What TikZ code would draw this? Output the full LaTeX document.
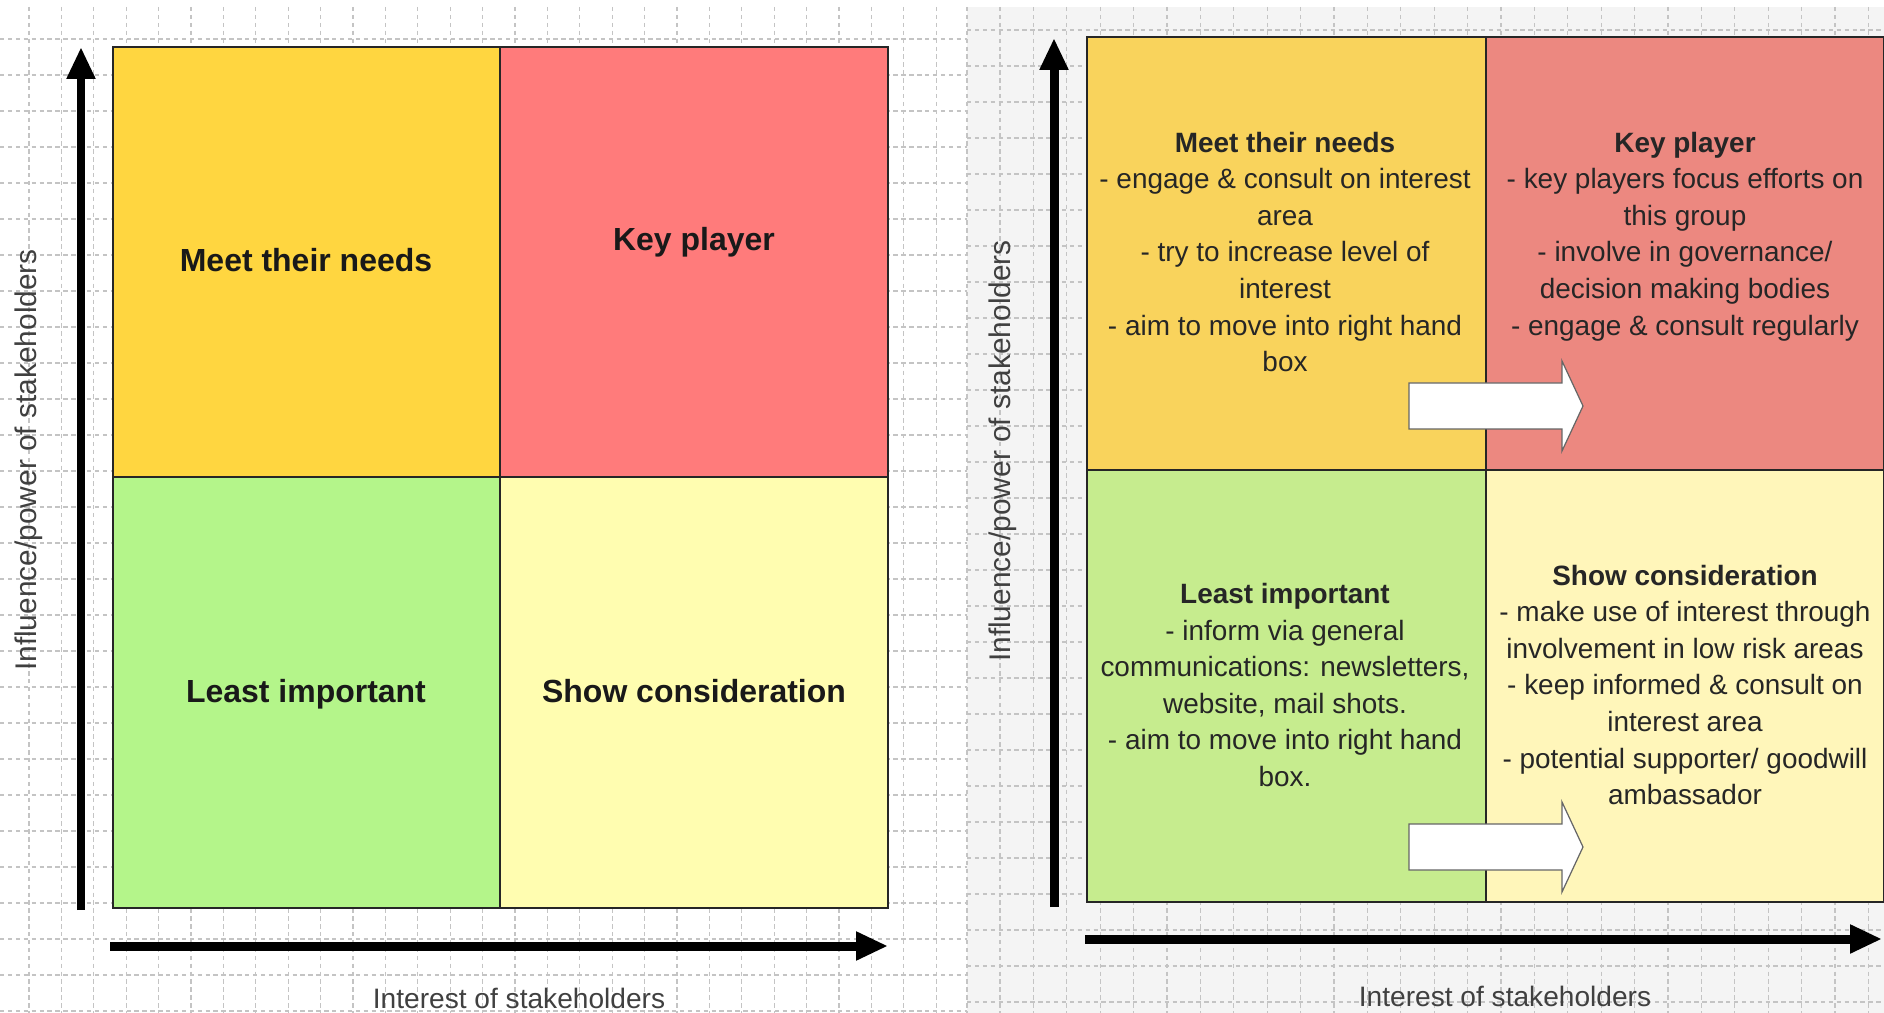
\documentclass[tikz,border=0pt]{standalone}
\usepackage{fontspec}
\setmainfont{Liberation Sans}
\usetikzlibrary{arrows.meta}
\definecolor{meetL}{HTML}{FFD640}
\definecolor{keyL}{HTML}{FF7B7B}
\definecolor{leastL}{HTML}{B4F58A}
\definecolor{showL}{HTML}{FFFDB0}
\definecolor{meetR}{HTML}{F9D35C}
\definecolor{keyR}{HTML}{EC8880}
\definecolor{leastR}{HTML}{C6EC8E}
\definecolor{showR}{HTML}{FFF6BA}
\definecolor{gridgray}{HTML}{C4C4C4}
\definecolor{panelgray}{HTML}{F4F4F4}
\begin{document}
\begin{tikzpicture}[>={Triangle[length=0.64cm,width=0.54cm]}, x=0.02cm, y=-0.02cm,
  quadline/.style={draw=black!85, line width=1.1pt},
  axis/.style={->, line width=0.18cm},
  gridline/.style={gridgray, line width=0.6pt, dash pattern=on 2.5pt off 2pt},
  bigtitle/.style={font=\fontsize{18.2}{22}\selectfont\bfseries, text=black!90, inner sep=0pt, text depth=0pt},
  notes/.style={align=center, inner sep=0pt, text=black!85, font=\fontsize{15.9}{20.8}\selectfont},
  axislabel/.style={text=black!75, font=\fontsize{16}{19}\selectfont, inner sep=0pt, anchor=base},
  moveon/.style={fill=white, draw=black!60, line width=0.7pt}]
\useasboundingbox (0,0) rectangle (1884,1013);
\fill[white] (0,0) rectangle (1884,1013);
% grid paper
\foreach \gx in {0,...,28} \draw[gridline] ({29+32.4*\gx},7) -- ({29+32.4*\gx},1013);
\foreach \gy in {0,...,27} \draw[gridline] (0,{39+36*\gy}) -- (967,{39+36*\gy});
\fill[panelgray] (967,7) rectangle (1884,1013);
\foreach \gx in {0,...,26} \draw[gridline] ({1000+33.4*\gx},7) -- ({1000+33.4*\gx},1013);
\foreach \gy in {0,...,27} \draw[gridline] (967,{30+36*\gy}) -- (1884,{30+36*\gy});
\draw[gridline] (967,7) -- (967,1013);

% left grid
\draw[quadline, fill=meetL] (113,47) rectangle (500,477);
\draw[quadline, fill=keyL] (500,47) rectangle (888,477);
\draw[quadline, fill=leastL] (113,477) rectangle (500,908);
\draw[quadline, fill=showL] (500,477) rectangle (888,908);
\node[bigtitle] (lmeet) at (306,260) {Meet their needs};
\node[bigtitle] (lkey) at (694,239) {Key player};
\node[bigtitle] (lleast) at (306,691) {Least important};
\node[bigtitle] (lshow) at (694,691) {Show consideration};
\coordinate (lyb) at (81,910); \coordinate (lyt) at (81,47);
\coordinate (lxl) at (110,946); \coordinate (lxr) at (888,946);
\draw[axis] (lyb) -- (lyt);
\draw[axis] (lxl) -- (lxr);
\node[axislabel, rotate=90, font=\fontsize{17}{20}\selectfont] (lylab) at (36,460) {Influence/power of stakeholders};
\node[axislabel] (lxlab) at (519,1008) {Interest of stakeholders};

% right grid
\draw[quadline, fill=meetR] (1087,37) rectangle (1486,470);
\draw[quadline, fill=keyR] (1486,37) rectangle (1884,470);
\draw[quadline, fill=leastR] (1087,470) rectangle (1486,902);
\draw[quadline, fill=showR] (1486,470) rectangle (1884,902);
\node[notes] (rmeet) at (1285,252) {\textbf{Meet their needs}\\- engage \& consult on interest\\area\\- try to increase level of\\interest\\- aim to move into right hand\\box};
\node[notes] (rkey) at (1685,236.5) {\textbf{Key player}\\- key players focus efforts on\\this group\\- involve in governance/\\decision making bodies\\- engage \& consult regularly};
\node[notes] (rleast) at (1285,685) {\textbf{Least important}\\- inform via general\\communications: newsletters,\\website, mail shots.\\- aim to move into right hand\\box.};
\node[notes] (rshow) at (1685,685) {\textbf{Show consideration}\\- make use of interest through\\involvement in low risk areas\\- keep informed \& consult on\\interest area\\- potential supporter/ goodwill\\ambassador};
\draw[moveon] (1409,383) -- (1562,383) -- (1562,361) -- (1583,406) -- (1562,451) -- (1562,429) -- (1409,429) -- cycle;
\draw[moveon] (1409,824) -- (1562,824) -- (1562,802) -- (1583,847) -- (1562,892) -- (1562,870) -- (1409,870) -- cycle;
\coordinate (ryb) at (1054,907); \coordinate (ryt) at (1054,38);
\coordinate (rxl) at (1085,939); \coordinate (rxr) at (1882,939);
\draw[axis] (ryb) -- (ryt);
\draw[axis] (rxl) -- (rxr);
\node[axislabel, rotate=90, font=\fontsize{17}{20}\selectfont] (rylab) at (1010,451) {Influence/power of stakeholders};
\node[axislabel] (rxlab) at (1505,1006) {Interest of stakeholders};
\end{tikzpicture}
\end{document}
